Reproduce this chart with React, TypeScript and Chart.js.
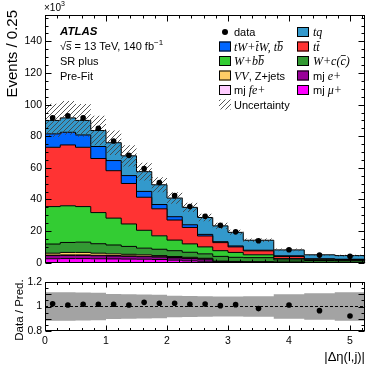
import React, { useEffect, useRef } from 'react';
import { Chart, registerables } from 'chart.js';

Chart.register(...registerables);

// ---------------- data ----------------
const binEdges = [0, 0.25, 0.5, 0.75, 1, 1.25, 1.5, 1.75, 2, 2.25, 2.5, 2.75, 3, 3.25, 3.75, 4.25, 4.75, 5.25];

// stacked MC components (x10^3 events / 0.25), bottom to top
const mjMuPlus = [2.5, 2.6, 2.6, 2.5, 2.4, 2.3, 2.2, 2.0, 1.6, 1.2, 0.9, 0.3, 0.3, 0.2, 0.1, 0.05, 0.05];
const mjEPlus = [2.0, 2.0, 2.0, 1.9, 1.8, 1.7, 1.6, 1.5, 1.4, 1.4, 1.3, 0.3, 0.2, 0.15, 0.1, 0.05, 0.05];
const mjFePlus = [0.3, 0.3, 0.3, 0.3, 0.3, 0.3, 0.3, 0.3, 0.3, 0.3, 0.2, 0.1, 0.1, 0.05, 0.05, 0.05, 0.05];
const vvZjets = [1.2, 1.6, 1.6, 1.3, 1.1, 1.0, 0.9, 0.7, 0.6, 0.5, 0.4, 0.3, 0.2, 0.2, 0.15, 0.15, 0.15];
const wPlusC = [5.8, 6.3, 6.5, 6.0, 5.6, 5.0, 4.2, 4.0, 3.7, 3.2, 2.8, 3.0, 2.6, 2.6, 1.4, 1.1, 1.0];
const wPlusBB = [23.7, 23.2, 22.5, 19.7, 17.0, 14.2, 11.3, 8.5, 6.7, 5.3, 4.4, 3.6, 3.1, 1.8, 0.8, 0.4, 0.3];
const ttbar = [37.5, 38.5, 37.5, 34.2, 30.0, 25.6, 20.9, 17.1, 12.7, 10.4, 6.9, 5.1, 3.5, 2.5, 1.3, 0.4, 0.4];
const tWchan = [8.5, 8.0, 7.8, 7.6, 6.4, 5.0, 3.7, 2.7, 2.1, 1.7, 1.0, 0.6, 0.6, 0.4, 0.5, 0.3, 0.2];
const tqchan = [8.5, 9.1, 9.2, 10.1, 11.3, 12.5, 12.5, 12.5, 11.8, 11.0, 10.7, 10.0, 8.6, 6.3, 3.7, 2.5, 2.3];

const dataValues = [91.7, 93.0, 91.7, 85.0, 77.0, 67.9, 59.5, 50.7, 42.4, 35.5, 29.4, 23.7, 19.6, 13.9, 8.2, 4.8, 4.1];
const ratioValues = [1.023, 1.012, 1.018, 1.018, 1.018, 1.012, 1.034, 1.026, 1.026, 1.018, 1.021, 1.007, 1.015, 0.983, 1.012, 0.966, 0.922];
const uncUp = [1.117, 1.117, 1.115, 1.112, 1.102, 1.1, 1.098, 1.095, 1.088, 1.085, 1.083, 1.082, 1.082, 1.083, 1.1, 1.108, 1.117];
const uncDown = [0.883, 0.883, 0.885, 0.888, 0.898, 0.9, 0.902, 0.905, 0.912, 0.915, 0.917, 0.918, 0.918, 0.917, 0.9, 0.892, 0.883];

const xTicks = [0, 1, 2, 3, 4, 5];
const yMainTicks = [0, 20, 40, 60, 80, 100, 120, 140];
const yRatioTicks = [0.8, 0.9, 1, 1.1, 1.2];

// ---------------- style ----------------
const SANS = '"Liberation Sans", Arial, Helvetica, sans-serif';
const SERIF = '"Liberation Serif", "Times New Roman", serif';
const sans = (s: number, st = '') => `${st} ${s}px ${SANS}`.trim();
const serifIt = (s: number) => `italic ${s}px ${SERIF}`;

const COLORS = {
  mu: '#ff00ff', e: '#990099', fe: '#ffccff', vv: '#ffcc66', wc: '#339933',
  wbb: '#33cc33', tt: '#ff3333', tw: '#0066ff', tq: '#3399cc',
};

const components = [
  { values: mjMuPlus, color: COLORS.mu },
  { values: mjEPlus, color: COLORS.e },
  { values: mjFePlus, color: COLORS.fe },
  { values: vvZjets, color: COLORS.vv },
  { values: wPlusC, color: COLORS.wc },
  { values: wPlusBB, color: COLORS.wbb },
  { values: ttbar, color: COLORS.tt },
  { values: tWchan, color: COLORS.tw },
  { values: tqchan, color: COLORS.tq },
];

const X_MIN = 0, X_MAX = 5.25;
const MAIN_W = 382, MAIN_H = 272, RATIO_H = 97;
const PLOT_LEFT = 45, PLOT_RIGHT_PAD = 16.75;

const stepPoints = (vals: number[]) =>
  binEdges.map((x, i) => ({ x, y: vals[Math.min(i, vals.length - 1)] }));
const centers = binEdges.slice(0, -1).map((e, i) => (e + binEdges[i + 1]) / 2);

type Seg = { t: string; font: string; size: number; over?: boolean; sup?: boolean };
function drawRich(ctx: any, segs: Seg[], x: number, y: number) {
  let cx = x;
  ctx.textAlign = 'left';
  ctx.textBaseline = 'alphabetic';
  ctx.fillStyle = '#000';
  ctx.strokeStyle = '#000';
  const base = y + 4;
  for (const s of segs) {
    ctx.font = s.font;
    const w = ctx.measureText(s.t).width;
    const by = s.sup ? base - 5 : base;
    ctx.fillText(s.t, cx, by);
    if (s.over) {
      const oy = Math.round(by - s.size * 0.8) + 0.5;
      ctx.beginPath();
      ctx.lineWidth = 0.8;
      ctx.moveTo(cx + 0.5, oy);
      ctx.lineTo(cx + w, oy);
      ctx.stroke();
    }
    cx += w;
  }
}

function makePattern(ctx: any) {
  const pc = document.createElement('canvas');
  pc.width = 5; pc.height = 5;
  const p = pc.getContext('2d') as any;
  p.strokeStyle = '#444';
  p.lineWidth = 0.9;
  p.beginPath();
  p.moveTo(0, 5); p.lineTo(5, 0);
  p.moveTo(-1, 1); p.lineTo(1, -1);
  p.moveTo(4, 6); p.lineTo(6, 4);
  p.stroke();
  return ctx.createPattern(pc, 'repeat');
}

function framePlugin(cfg: any) {
  return {
    id: 'frameTicks',
    afterDraw(chart: any) {
      const { ctx, chartArea: a } = chart;
      const xs = chart.scales.x, ys = chart.scales.y;
      const L = Math.round(a.left) + 0.5, R = Math.round(a.right) - 0.5;
      const T = Math.round(a.top) + 0.5, B = Math.round(a.bottom) - 0.5;
      ctx.save();
      ctx.strokeStyle = '#000';
      ctx.lineWidth = 1;
      ctx.setLineDash([]);
      ctx.strokeRect(L, T, R - L, B - T);
      ctx.beginPath();
      const nx = Math.floor((cfg.xMax - cfg.xMin) / cfg.xMinor + 1e-6);
      for (let k = 0; k <= nx; k++) {
        const v = cfg.xMin + k * cfg.xMinor;
        const r = v / cfg.xMajor;
        const major = Math.abs(r - Math.round(r)) < 1e-6;
        const len = major ? cfg.xMajLen : cfg.xMinLen;
        const px = Math.round(xs.getPixelForValue(v)) + 0.5;
        ctx.moveTo(px, B); ctx.lineTo(px, B - len);
        ctx.moveTo(px, T); ctx.lineTo(px, T + len);
      }
      const ny = Math.floor((cfg.yMax - cfg.yMin) / cfg.yMinor + 1e-6);
      for (let k = 0; k <= ny; k++) {
        const v = cfg.yMin + k * cfg.yMinor;
        const r = v / cfg.yMajor;
        const major = Math.abs(r - Math.round(r)) < 1e-6;
        const len = major ? cfg.yMajLen : cfg.yMinLen;
        const py = Math.round(ys.getPixelForValue(v)) + 0.5;
        ctx.moveTo(L, py); ctx.lineTo(L + len, py);
        ctx.moveTo(R, py); ctx.lineTo(R - len, py);
      }
      ctx.stroke();
      ctx.restore();
    },
  };
}

export default function App() {
  const mainRef = useRef<HTMLCanvasElement>(null);
  const ratioRef = useRef<HTMLCanvasElement>(null);

  useEffect(() => {
    const mainCanvas = mainRef.current as HTMLCanvasElement;
    const ratioCanvas = ratioRef.current as HTMLCanvasElement;
    const mctx = mainCanvas.getContext('2d') as any;
    const pattern = makePattern(mctx);

    const total = binEdges.slice(0, -1).map((_, i) =>
      components.reduce((s, c) => s + c.values[i], 0));

    const compDatasets = components.map((c, i) => ({
      type: 'line',
      data: stepPoints(c.values),
      stepped: 'before',
      tension: 0,
      borderColor: '#000',
      borderWidth: 1,
      backgroundColor: c.color,
      fill: i === 0 ? 'origin' : '-1',
      pointRadius: 0,
      stack: 'mc',
    }));

    const textPlugin = {
      id: 'mainText',
      afterDraw(chart: any) {
        const ctx = chart.ctx;
        ctx.save();
        // axis title
        ctx.save();
        ctx.translate(13, 10);
        ctx.rotate(-Math.PI / 2);
        ctx.font = sans(15);
        ctx.fillStyle = '#000';
        ctx.textAlign = 'right';
        ctx.textBaseline = 'middle';
        ctx.fillText('Events / 0.25', 0, 0);
        ctx.restore();
        // x10^3
        drawRich(ctx, [
          { t: '\u00d710', font: sans(10), size: 10 },
          { t: '3', font: sans(7), size: 7, sup: true },
        ], 44, 7);

        // ATLAS label
        const s11 = sans(11);
        drawRich(ctx, [{ t: 'ATLAS', font: sans(11.5, 'italic bold'), size: 11.5 }], 60, 31);
        drawRich(ctx, [
          { t: '\u221a', font: s11, size: 11 },
          { t: 's', font: s11, size: 11, over: true },
          { t: ' = 13 TeV, 140 fb', font: s11, size: 11 },
          { t: '\u22121', font: sans(8), size: 8, sup: true },
        ], 60, 46);
        drawRich(ctx, [{ t: 'SR plus', font: s11, size: 11 }], 60, 61);
        drawRich(ctx, [{ t: 'Pre-Fit', font: s11, size: 11 }], 60, 76);

        // legend
        const it = serifIt(12);
        const box = (x: number, y: number, color: any, border = true) => {
          ctx.fillStyle = color;
          ctx.fillRect(x, y - 5, 12, 10);
          if (border) {
            ctx.strokeStyle = '#000';
            ctx.lineWidth = 1;
            ctx.strokeRect(x + 0.5, y - 4.5, 11, 9);
          }
        };
        const c1 = 219, c2 = 297, t1 = 234, t2 = 313;
        const rows = [32, 46.5, 61, 75.5, 90, 104.5];
        // column 1
        ctx.fillStyle = '#000';
        ctx.beginPath();
        ctx.arc(c1 + 6, rows[0], 3, 0, Math.PI * 2);
        ctx.fill();
        drawRich(ctx, [{ t: 'data', font: s11, size: 11 }], t1, rows[0]);
        box(c1, rows[1], COLORS.tw);
        drawRich(ctx, [
          { t: 'tW+', font: it, size: 12 },
          { t: 't', font: it, size: 12, over: true },
          { t: 'W, t', font: it, size: 12 },
          { t: 'b', font: it, size: 12, over: true },
        ], t1, rows[1]);
        box(c1, rows[2], COLORS.wbb);
        drawRich(ctx, [
          { t: 'W+b', font: it, size: 12 },
          { t: 'b', font: it, size: 12, over: true },
        ], t1, rows[2]);
        box(c1, rows[3], COLORS.vv);
        drawRich(ctx, [
          { t: 'VV', font: it, size: 12 },
          { t: ', Z+jets', font: s11, size: 11 },
        ], t1, rows[3]);
        box(c1, rows[4], COLORS.fe);
        drawRich(ctx, [
          { t: 'mj ', font: s11, size: 11 },
          { t: 'fe+', font: it, size: 12 },
        ], t1, rows[4]);
        box(c1, rows[5], pattern, false);
        drawRich(ctx, [{ t: 'Uncertainty', font: s11, size: 11 }], t1, rows[5]);
        // column 2
        box(c2, rows[0], COLORS.tq);
        drawRich(ctx, [{ t: 'tq', font: it, size: 12 }], t2, rows[0]);
        box(c2, rows[1], COLORS.tt);
        drawRich(ctx, [
          { t: 't', font: it, size: 12 },
          { t: 't', font: it, size: 12, over: true },
        ], t2, rows[1]);
        box(c2, rows[2], COLORS.wc);
        drawRich(ctx, [
          { t: 'W+c(', font: it, size: 12 },
          { t: 'c', font: it, size: 12, over: true },
          { t: ')', font: it, size: 12 },
        ], t2, rows[2]);
        box(c2, rows[3], COLORS.e);
        drawRich(ctx, [
          { t: 'mj ', font: s11, size: 11 },
          { t: 'e+', font: it, size: 12 },
        ], t2, rows[3]);
        box(c2, rows[4], COLORS.mu);
        drawRich(ctx, [
          { t: 'mj ', font: s11, size: 11 },
          { t: '\u03bc+', font: it, size: 12 },
        ], t2, rows[4]);
        ctx.restore();
      },
    };

    const mainChart = new Chart(mainCanvas, {
      type: 'line',
      data: {
        datasets: [
          {
            type: 'line',
            data: centers.map((x, i) => ({ x, y: dataValues[i] })),
            showLine: false,
            pointRadius: 2.8,
            pointBackgroundColor: '#000',
            pointBorderColor: '#000',
            pointBorderWidth: 0,
            stack: 'data',
          },
          {
            type: 'line',
            data: stepPoints(total.map((t, i) => t * uncUp[i])),
            stepped: 'before',
            borderWidth: 0,
            pointRadius: 0,
            backgroundColor: pattern,
            fill: '+1',
            stack: 'uncHi',
          },
          {
            type: 'line',
            data: stepPoints(total.map((t, i) => t * uncDown[i])),
            stepped: 'before',
            borderWidth: 0,
            pointRadius: 0,
            fill: false,
            stack: 'uncLo',
          },
          ...compDatasets,
        ] as any,
      },
      options: {
        animation: false,
        responsive: false,
        devicePixelRatio: 1,
        events: [],
        layout: { padding: { left: 0, right: PLOT_RIGHT_PAD, top: 14.5, bottom: 0 } },
        plugins: { legend: { display: false }, tooltip: { enabled: false }, title: { display: false } },
        scales: {
          x: {
            type: 'linear', min: X_MIN, max: X_MAX,
            grid: { display: false, drawTicks: false }, border: { display: false },
            ticks: { display: false },
            afterFit: (s: any) => { s.height = MAIN_H - 265.5; },
          },
          y: {
            type: 'linear', min: 0, max: 157, stacked: true,
            grid: { display: false, drawTicks: false }, border: { display: false },
            ticks: { color: '#000', font: { family: SANS, size: 10.5 }, padding: 3 },
            afterBuildTicks: (s: any) => { s.ticks = yMainTicks.map((v) => ({ value: v })); },
            afterFit: (s: any) => { s.width = PLOT_LEFT; },
          },
        },
      } as any,
      plugins: [
        framePlugin({ xMin: X_MIN, xMax: X_MAX, xMinor: 0.2, xMajor: 1, xMajLen: 6, xMinLen: 3,
          yMin: 0, yMax: 157, yMinor: 5, yMajor: 20, yMajLen: 6, yMinLen: 3 }),
        textPlugin,
      ] as any,
    });

    const ratioText = {
      id: 'ratioText',
      afterDraw(chart: any) {
        const ctx = chart.ctx;
        ctx.save();
        ctx.fillStyle = '#000';
        ctx.translate(20, 310 - MAIN_H);
        ctx.rotate(-Math.PI / 2);
        ctx.font = sans(11.5);
        ctx.textAlign = 'center';
        ctx.textBaseline = 'middle';
        ctx.fillText('Data / Pred.', 0, 0);
        ctx.restore();
        ctx.save();
        ctx.fillStyle = '#000';
        ctx.font = sans(13);
        ctx.textAlign = 'right';
        ctx.textBaseline = 'middle';
        ctx.fillText('|\u0394\u03b7(l,j)|', 365, 357 - MAIN_H);
        ctx.restore();
      },
    };

    const ratioChart = new Chart(ratioCanvas, {
      type: 'line',
      data: {
        datasets: [
          {
            type: 'line',
            data: centers.map((x, i) => ({ x, y: ratioValues[i] })),
            showLine: false,
            pointRadius: 2.8,
            pointBackgroundColor: '#000',
            pointBorderColor: '#000',
            pointBorderWidth: 0,
          },
          {
            type: 'line',
            data: [{ x: X_MIN, y: 1 }, { x: X_MAX, y: 1 }],
            borderColor: '#000',
            borderWidth: 1,
            borderDash: [3, 2],
            pointRadius: 0,
            fill: false,
          },
          {
            type: 'line',
            data: stepPoints(uncUp),
            stepped: 'before',
            borderWidth: 0,
            pointRadius: 0,
            backgroundColor: '#a3a3a3',
            fill: '+1',
          },
          {
            type: 'line',
            data: stepPoints(uncDown),
            stepped: 'before',
            borderWidth: 0,
            pointRadius: 0,
            fill: false,
          },
        ] as any,
      },
      options: {
        animation: false,
        responsive: false,
        devicePixelRatio: 1,
        events: [],
        layout: { padding: { left: 0, right: PLOT_RIGHT_PAD, top: 282 - MAIN_H, bottom: 0 } },
        plugins: { legend: { display: false }, tooltip: { enabled: false }, title: { display: false } },
        scales: {
          x: {
            type: 'linear', min: X_MIN, max: X_MAX,
            grid: { display: false, drawTicks: false }, border: { display: false },
            ticks: { color: '#000', font: { family: SANS, size: 10.5 }, padding: 4, autoSkip: false, maxRotation: 0 },
            afterBuildTicks: (s: any) => { s.ticks = xTicks.map((v) => ({ value: v })); },
            afterFit: (s: any) => { s.height = MAIN_H + RATIO_H - 331; },
          },
          y: {
            type: 'linear', min: 0.8, max: 1.2,
            grid: { display: false, drawTicks: false }, border: { display: false },
            ticks: {
              color: '#000', font: { family: SANS, size: 10.5 }, padding: 3,
              callback: (v: any) => String(Number(Number(v).toFixed(2))),
            },
            afterBuildTicks: (s: any) => { s.ticks = yRatioTicks.map((v) => ({ value: v })); },
            afterFit: (s: any) => { s.width = PLOT_LEFT; },
          },
        },
      } as any,
      plugins: [
        framePlugin({ xMin: X_MIN, xMax: X_MAX, xMinor: 0.2, xMajor: 1, xMajLen: 5, xMinLen: 2.5,
          yMin: 0.8, yMax: 1.2, yMinor: 0.05, yMajor: 0.1, yMajLen: 6, yMinLen: 3 }),
        ratioText,
      ] as any,
    });

    return () => {
      mainChart.destroy();
      ratioChart.destroy();
    };
  }, []);

  return (
    <div style={{ position: 'absolute', left: 0, top: 0, width: MAIN_W, height: MAIN_H + RATIO_H, background: '#fff' }}>
      <canvas ref={mainRef} width={MAIN_W} height={MAIN_H}
        style={{ position: 'absolute', left: 0, top: 0, width: MAIN_W, height: MAIN_H }} />
      <canvas ref={ratioRef} width={MAIN_W} height={RATIO_H}
        style={{ position: 'absolute', left: 0, top: MAIN_H, width: MAIN_W, height: RATIO_H }} />
    </div>
  );
}
